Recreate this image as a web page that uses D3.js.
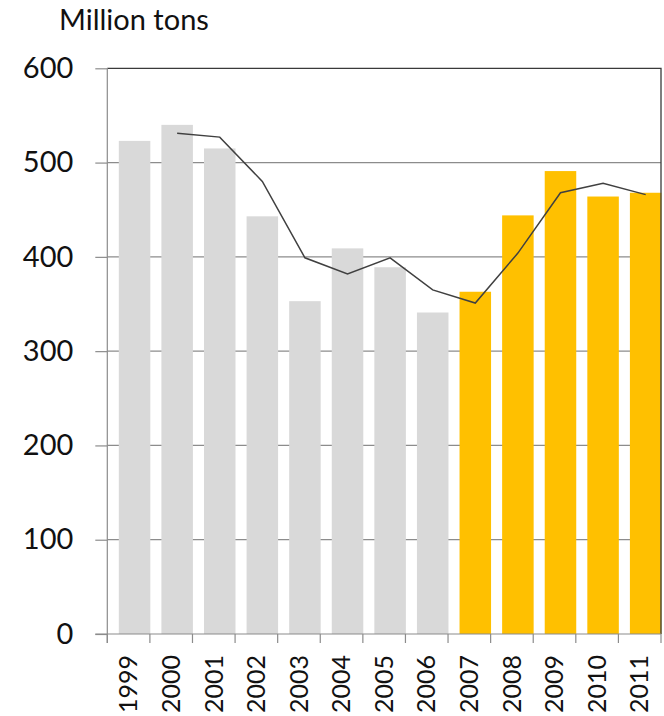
<!DOCTYPE html>
<html>
<head>
<meta charset="utf-8">
<script src="https://cdn.jsdelivr.net/npm/d3@7"></script>
<style>
  body { margin: 0; background: #fff; }
  text { font-family: Lato, "Open Sans", sans-serif; fill: #111; }
</style>
</head>
<body>
<script>
// data
let years = ['1999','2000','2001','2002','2003','2004','2005','2006','2007','2008','2009','2010','2011'];
let production = [523, 540, 515, 443, 353, 409, 389, 341, 363, 444, 491, 464, 468];
let lineYears = ['2000','2001','2002','2003','2004','2005','2006','2007','2008','2009','2010','2011'];
let lineValues = [531, 527, 480, 399, 382, 399, 365, 351, 404, 468, 478, 466];
let highlightYears = ['2007','2008','2009','2010','2011'];
let yTicks = [0, 100, 200, 300, 400, 500, 600];

let width = 664, height = 716;
let plotLeft = 107.3, plotRight = 661, plotTop = 68.3, plotBottom = 634;

let svg = d3.select('body').append('svg')
  .attr('width', width)
  .attr('height', height);

let x = d3.scaleBand().domain(years).range([plotLeft, plotRight]).padding(0);
let y = d3.scaleLinear().domain([0, 600]).range([plotBottom, plotTop]);

let bw = x.bandwidth();
let barOff = bw * 0.27, barW = bw * 0.74;

// gridlines
svg.append('g').selectAll('line')
  .data(yTicks.filter(d => d > 0 && d < 600))
  .enter().append('line')
  .attr('x1', plotLeft).attr('x2', plotRight)
  .attr('y1', d => y(d)).attr('y2', d => y(d))
  .attr('stroke', '#8c8c8c').attr('stroke-width', 1.2);

// bars
svg.append('g').selectAll('rect')
  .data(years)
  .enter().append('rect')
  .attr('x', d => x(d) + barOff)
  .attr('width', barW)
  .attr('y', (d, i) => y(production[i]))
  .attr('height', (d, i) => y(0) - y(production[i]))
  .attr('fill', d => highlightYears.includes(d) ? '#FFC000' : '#D9D9D9');

// plot frame top and right
svg.append('path')
  .attr('d', 'M' + plotLeft + ',' + y(600) + 'H' + plotRight + 'V' + plotBottom)
  .attr('fill', 'none')
  .attr('stroke', '#3a3a3a').attr('stroke-width', 1.3);

// trend line
let line = d3.line()
  .x(d => x(d[0]) + barOff + barW / 2)
  .y(d => y(d[1]));
svg.append('path')
  .datum(lineYears.map((d, i) => [d, lineValues[i]]))
  .attr('d', line)
  .attr('fill', 'none')
  .attr('stroke', '#404040')
  .attr('stroke-width', 1.5);

// y axis
let yAxis = d3.axisLeft(y).tickValues(yTicks).tickSize(12).tickPadding(22);
let ga = svg.append('g').attr('transform', 'translate(' + plotLeft + ',0)').call(yAxis);
ga.select('.domain').attr('d', 'M0,' + y(600) + 'V' + (plotBottom + 9)).attr('stroke', '#8c8c8c').attr('stroke-width', 1.2);
ga.selectAll('.tick line').attr('stroke', '#8c8c8c').attr('stroke-width', 1.2);
ga.selectAll('.tick text')
  .attr('font-size', 29)
  .attr('font-family', 'Lato, sans-serif')
  .attr('fill', '#111');

// x axis: ticks sit on band edges
let gx = svg.append('g');
gx.append('line')
  .attr('x1', plotLeft - 12).attr('x2', plotRight)
  .attr('y1', plotBottom).attr('y2', plotBottom)
  .attr('stroke', '#8c8c8c').attr('stroke-width', 1.2);
gx.selectAll('.xt')
  .data(years.concat(['end']))
  .enter().append('line')
  .attr('class', 'xt')
  .attr('x1', (d, i) => plotLeft + i * bw).attr('x2', (d, i) => plotLeft + i * bw)
  .attr('y1', plotBottom).attr('y2', plotBottom + 9)
  .attr('stroke', '#8c8c8c').attr('stroke-width', 1.2);
gx.selectAll('text')
  .data(years)
  .enter().append('text')
  .attr('transform', d => 'translate(' + (x(d) + bw / 2) + ',655) rotate(-90)')
  .attr('text-anchor', 'end')
  .attr('dy', '0.35em')
  .attr('font-size', 25)
  .text(d => d);

// unit label
svg.append('text')
  .attr('x', 59).attr('y', 29.5)
  .attr('font-size', 29)
  .text('Million tons');
</script>
</body>
</html>
